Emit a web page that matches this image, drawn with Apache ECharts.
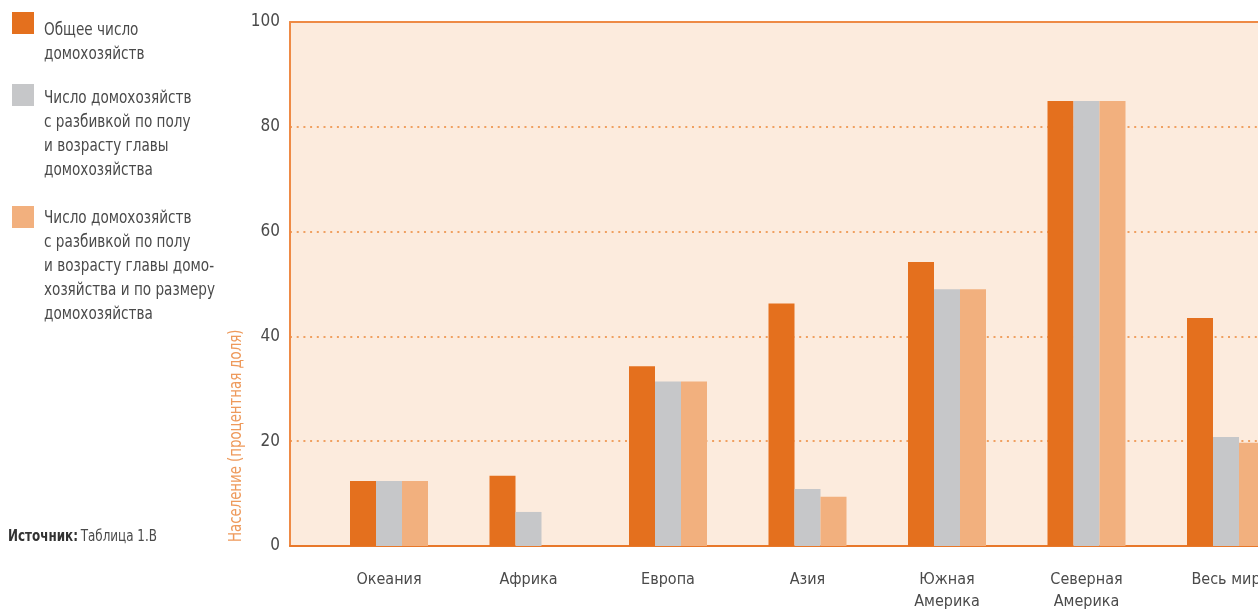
<!DOCTYPE html>
<html>
<head>
<meta charset="utf-8">
<script src="https://cdn.jsdelivr.net/npm/echarts@6/dist/echarts.min.js"></script>
<style>
html,body{margin:0;padding:0;background:#fff;}
#chart{width:1258px;height:610px;}
</style>
</head>
<body>
<div id="chart"></div>
<script>
var categories = ['Океания', 'Африка', 'Европа', 'Азия', 'Южная\nАмерика', 'Северная\nАмерика', 'Весь мир'];
var seriesNames = [
  'Общее число домохозяйств',
  'Число домохозяйств с разбивкой по полу и возрасту главы домохозяйства',
  'Число домохозяйств с разбивкой по полу и возрасту главы домохозяйства и по размеру домохозяйства'
];
var legendLabels = [
  'Общее число\nдомохозяйств',
  'Число домохозяйств\nс разбивкой по полу\nи возрасту главы\nдомохозяйства',
  'Число домохозяйств\nс разбивкой по полу\nи возрасту главы домо-\nхозяйства и по размеру\nдомохозяйства'
];
var totalHouseholds = [12.4, 13.4, 34.3, 46.3, 54.2, 84.9, 43.5];
var bySexAge = [12.4, 6.5, 31.4, 10.9, 49.0, 84.9, 20.8];
var bySexAgeSize = [12.4, 0, 31.4, 9.4, 49.0, 84.9, 19.7];
var yTicks = [0, 20, 40, 60, 80, 100];
var yAxisTitle = 'Население (процентная доля)';
var sourceLabel = 'Источник:';
var sourceText = 'Таблица 1.В';

var FONT = '"Liberation Sans Narrow", "DejaVu Sans Condensed", "Noto Sans", sans-serif';
var colors = ['#E4701E', '#C6C7C9', '#F2B07E'];
var values = [totalHouseholds, bySexAge, bySexAgeSize];

var chart = echarts.init(document.getElementById('chart'), null, {renderer: 'canvas'});

var legendGraphics = [];
var legendTops = [12, 84, 206];
var textTops = [19, 87, 207];
for (var i = 0; i < 3; i++) {
  legendGraphics.push({
    type: 'rect', left: 12, top: legendTops[i],
    shape: {width: 22, height: 22}, style: {fill: colors[i]}
  });
  legendGraphics.push({
    type: 'text', x: 44, y: textTops[i], scaleX: 0.89,
    style: {text: legendLabels[i], font: '17px ' + FONT, fill: '#4a4a4a', lineHeight: 23.8, verticalAlign: 'top'}
  });
}
legendGraphics.push({
  type: 'text', x: 8, y: 537, scaleX: 0.83,
  style: {
    text: '{b|' + sourceLabel + '} {r|' + sourceText + '}',
    verticalAlign: 'middle',
    rich: {
      b: {fontFamily: FONT, fontSize: 16, fontWeight: 'bold', fill: '#333'},
      r: {fontFamily: FONT, fontSize: 16, fill: '#4a4a4a'}
    }
  }
});
legendGraphics.push({
  type: 'text', x: 237, y: 542, rotation: Math.PI / 2, scaleX: 0.87,
  style: {text: yAxisTitle, font: '17px ' + FONT, fill: '#EE9A5C', align: 'left', verticalAlign: 'middle'}
});

var option = {
  animation: false,
  backgroundColor: '#ffffff',
  grid: [
    {left: 389, top: 22, bottom: 64, right: 32, outerBoundsMode: 'none', containLabel: false},
    {left: 290, top: 22, bottom: 64, right: -30, outerBoundsMode: 'none', containLabel: false,
     show: true, backgroundColor: '#FCEBDD', borderWidth: 0}
  ],
  xAxis: [
    {
      type: 'category', gridIndex: 0, data: categories, boundaryGap: false,
      axisLine: {show: false}, axisTick: {show: false},
      axisLabel: {fontFamily: FONT, fontSize: 16, color: '#4a4a4a', margin: 23, lineHeight: 22, interval: 0}
    },
    {
      type: 'value', gridIndex: 1, min: 0, max: 1, position: 'bottom',
      axisLine: {show: true, lineStyle: {color: '#E8782A', width: 2}},
      axisTick: {show: false}, axisLabel: {show: false}, splitLine: {show: false}
    },
    {
      type: 'value', gridIndex: 1, min: 0, max: 1, position: 'top',
      axisLine: {show: true, lineStyle: {color: '#EE8A45', width: 2}},
      axisTick: {show: false}, axisLabel: {show: false}, splitLine: {show: false}
    }
  ],
  yAxis: [
    {type: 'value', gridIndex: 0, min: 0, max: 100, show: false},
    {
      type: 'value', gridIndex: 1, min: yTicks[0], max: yTicks[yTicks.length - 1], interval: 20,
      axisLine: {show: true, lineStyle: {color: '#EE8A45', width: 2}},
      axisTick: {show: false},
      axisLabel: {fontFamily: FONT, fontSize: 17, color: '#4a4a4a', margin: 10},
      splitLine: {show: true, lineStyle: {color: '#F0A060', width: 2, type: [2, 4.7]}}
    }
  ],
  series: values.map(function (v, i) {
    return {
      name: seriesNames[i], type: 'bar', xAxisIndex: 0, yAxisIndex: 0,
      data: v, barWidth: 26, barGap: '0%',
      itemStyle: {color: colors[i]}, z: 3
    };
  }),
  graphic: legendGraphics
};
chart.setOption(option);
</script>
</body>
</html>
